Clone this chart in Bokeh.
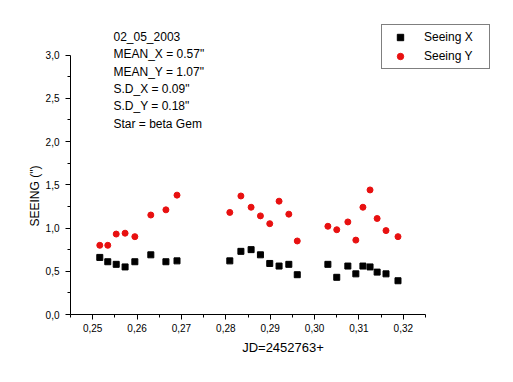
from bokeh.plotting import figure
from bokeh.models import FixedTicker, Legend, LegendItem, Range1d, Title
from bokeh.embed import file_html
from bokeh.resources import INLINE
from bokeh.core.properties import value

# ---- data ----
jd = [0.2516, 0.2534, 0.2553, 0.2573, 0.2595, 0.2631, 0.2665, 0.2690,
      0.2809, 0.2834, 0.2857, 0.2878, 0.2899, 0.2920, 0.2942, 0.2961,
      0.3030, 0.3050, 0.3075, 0.3093, 0.3109, 0.3125, 0.3141, 0.3161, 0.3188]
seeing_x = [0.66, 0.61, 0.58, 0.55, 0.61, 0.69, 0.61, 0.62,
            0.62, 0.73, 0.75, 0.69, 0.59, 0.56, 0.58, 0.46,
            0.58, 0.43, 0.56, 0.47, 0.56, 0.55, 0.49, 0.47, 0.39]
seeing_y = [0.80, 0.80, 0.93, 0.94, 0.90, 1.15, 1.21, 1.38,
            1.18, 1.37, 1.24, 1.14, 1.05, 1.31, 1.16, 0.85,
            1.02, 0.98, 1.07, 0.86, 1.24, 1.44, 1.11, 0.97, 0.90]

x_ticks = [0.25, 0.26, 0.27, 0.28, 0.29, 0.30, 0.31, 0.32]
x_tick_labels = ["0,25", "0,26", "0,27", "0,28", "0,29", "0,30", "0,31", "0,32"]
x_minor = [0.245, 0.255, 0.265, 0.275, 0.285, 0.295, 0.305, 0.315, 0.325]
y_ticks = [0.0, 0.5, 1.0, 1.5, 2.0, 2.5, 3.0]
y_tick_labels = ["0,0", "0,5", "1,0", "1,5", "2,0", "2,5", "3,0"]
y_minor = [0.25, 0.75, 1.25, 1.75, 2.25, 2.75]
x_bounds = (0.245, 0.325)
y_bounds = (0.0, 3.0)

info_lines = ["02_05_2003", "MEAN_X =  0.57\"", "MEAN_Y =  1.07\"",
              "S.D_X  =  0.09\"", "S.D_Y  =  0.18\"", "Star = beta Gem"]

# ---- geometry ----
W, H = 497, 366
left, right, top, bottom = 70, 2, 5, 52
frame_w = W - left - right
frame_h = H - top - bottom
axis_len_x = 355.0   # px spanned by x bounds
axis_len_y = 259.5   # px spanned by y bounds
ppx = axis_len_x / (x_bounds[1] - x_bounds[0])
ppy = axis_len_y / (y_bounds[1] - y_bounds[0])

p = figure(width=W, height=H, output_backend="svg", toolbar_location=None,
           min_border_left=left, min_border_right=right,
           min_border_top=top, min_border_bottom=bottom,
           x_range=Range1d(x_bounds[0], x_bounds[0] + frame_w / ppx),
           y_range=Range1d(y_bounds[0], y_bounds[0] + frame_h / ppy))
p.outline_line_color = None
p.xgrid.visible = False
p.ygrid.visible = False
p.background_fill_color = "white"
p.border_fill_color = "white"

FONT = "Liberation Sans"
for ax, ticks, labels, minor, bnds in ((p.xaxis[0], x_ticks, x_tick_labels, x_minor, x_bounds),
                                      (p.yaxis[0], y_ticks, y_tick_labels, y_minor, y_bounds)):
    ax.ticker = FixedTicker(ticks=ticks, minor_ticks=minor)
    ax.major_label_overrides = {t: l for t, l in zip(ticks, labels)}
    ax.bounds = bnds
    ax.axis_line_color = "black"
    ax.axis_line_width = 1
    ax.major_tick_line_color = "black"
    ax.minor_tick_line_color = "black"
    ax.major_tick_in = 0
    ax.major_tick_out = 5
    ax.minor_tick_in = 0
    ax.minor_tick_out = 3
    ax.major_label_text_font = FONT
    ax.major_label_text_font_size = "10px"
    ax.major_label_text_color = "black"
    ax.axis_label_text_font = FONT
    ax.axis_label_text_font_style = "normal"
    ax.axis_label_text_color = "black"

p.xaxis.axis_label = "JD=2452763+"
p.xaxis.axis_label_text_font_size = "13px"
p.xaxis.major_label_standoff = 4
p.xaxis.axis_label_standoff = 5
p.yaxis.major_label_standoff = 6

rx = p.scatter(jd, seeing_x, marker="square", size=6, color="black")
ry = p.scatter(jd, seeing_y, marker="circle", size=6, color="#e81010")

# y-axis title as a side-panel title so it can sit lower than the frame centre
p.add_layout(Title(text="SEEING (\")", align="left", offset=88,
                   text_font=FONT, text_font_size="12px", text_font_style="normal",
                   text_color="black", standoff=2), "left")

# info text block
tx = x_bounds[0] + (113 - 70) / ppx
ty0 = y_bounds[1] + (55 - 36.7) / ppy
step = 17.4 / ppy
p.text(x=[tx] * len(info_lines), y=[ty0 - i * step for i in range(len(info_lines))],
       text=info_lines, text_font=value(FONT), text_font_size="12px",
       text_color="black", text_baseline="middle", text_align="left")

legend = Legend(items=[LegendItem(label="Seeing X", renderers=[rx]),
                       LegendItem(label="Seeing Y", renderers=[ry])],
                location=(311, 245))
legend.border_line_color = "black"
legend.border_line_width = 1
legend.background_fill_color = "white"
legend.background_fill_alpha = 1
legend.padding = 4
legend.spacing = 3
legend.glyph_width = 28
legend.glyph_height = 16
legend.label_height = 16
legend.label_width = 61
legend.label_standoff = 10
legend.margin = 0
legend.label_text_font = FONT
legend.label_text_font_size = "12px"
legend.label_text_color = "black"
p.add_layout(legend, "center")

open("out.html", "w").write(file_html(p, INLINE))
